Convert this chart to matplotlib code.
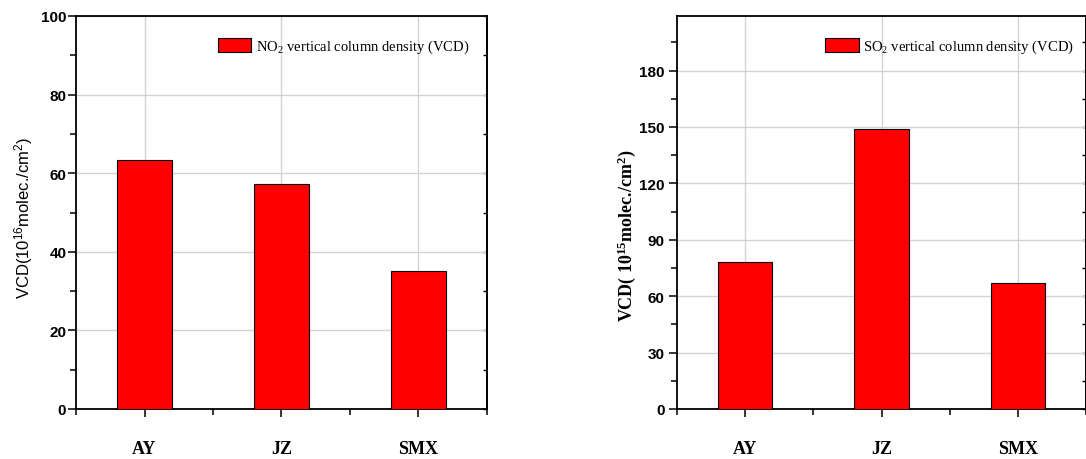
import numpy as np
import matplotlib
matplotlib.use("Agg")
import matplotlib.pyplot as plt
from matplotlib.ticker import MultipleLocator

# dane
stacje = ["AY", "JZ", "SMX"]
no2_vcd = [63.4, 57.2, 35.2]
so2_vcd = [78.0, 149.1, 67.1]

W, H = 1086, 460
fig = plt.figure(figsize=(W / 100, H / 100), dpi=100)

ax1 = fig.add_axes([76 / W, 50 / H, 411 / W, 393 / H])
ax2 = fig.add_axes([677 / W, 50 / H, 409 / W, 393 / H])

pozycje = np.arange(1, len(stacje) + 1)


def rysuj(ax, wartosci, ymax, krok, maly, opis_legendy):
    ax.bar(pozycje, wartosci, width=0.4, color="#ff0000",
           edgecolor="black", linewidth=0.8, label=opis_legendy, zorder=3)
    ax.set_xlim(0.5, 3.5)
    ax.set_ylim(0, ymax)
    ax.yaxis.set_major_locator(MultipleLocator(krok))
    ax.yaxis.set_minor_locator(MultipleLocator(maly))
    ax.set_xticks(pozycje)
    ax.set_xticks([0.5, 1.5, 2.5, 3.5], minor=True)
    ax.set_xticklabels(stacje, fontfamily="Liberation Serif",
                       fontweight="bold", fontsize=13)
    ax.grid(True, which="major", color="#d4d4d4", linewidth=1.0, zorder=0)
    for s in ax.spines.values():
        s.set_linewidth(1.3)
    ax.tick_params(axis="x", which="major", length=6, width=1.1,
                   direction="out", pad=16)
    ax.tick_params(axis="x", which="minor", length=4, width=1.1,
                   direction="out")
    ax.tick_params(axis="y", which="major", length=6, width=1.1,
                   direction="out", pad=1, labelsize=11)
    ax.tick_params(axis="y", which="minor", length=4, width=1.1,
                   direction="out")
    for t in ax.get_yticklabels():
        t.set_fontfamily("Liberation Sans")
        t.set_fontweight("bold")
    # znaczniki po prawej stronie, do wewnątrz
    ay = ax.secondary_yaxis("right")
    ay.yaxis.set_major_locator(MultipleLocator(krok))
    ay.yaxis.set_minor_locator(MultipleLocator(maly))
    ay.tick_params(which="both", direction="in", length=3, width=1.0,
                   labelright=False)
    ay.spines["right"].set_linewidth(1.3)


rysuj(ax1, no2_vcd, 100, 20, 10,
      r"NO$\mathregular{_2}$ vertical column density (VCD)")
rysuj(ax2, so2_vcd, 209, 30, 15,
      r"SO$\mathregular{_2}$ vertical column density (VCD)")

ax2.set_yticks([0, 30, 60, 90, 120, 150, 180])
for t in ax2.get_yticklabels():
    t.set_fontfamily("Liberation Sans")
    t.set_fontweight("bold")
ax2.tick_params(axis="y", which="major", pad=3)

for ax, x0 in [(ax1, 0.345), (ax2, 0.363)]:
    ax.legend(loc="upper left", bbox_to_anchor=(x0, 0.945), frameon=False,
              borderpad=0, borderaxespad=0, handlelength=2.3,
              handleheight=1.05, handletextpad=0.3,
              prop={"family": "Liberation Serif", "size": 10.5})

fig.text(24 / W, 1 - 218 / H, r"VCD(10$\mathregular{^{16}}$molec./cm$\mathregular{^2}$)",
         rotation=90, ha="center", va="center",
         fontfamily="Liberation Sans", fontsize=12)
fig.text(627 / W, 1 - 236 / H, r"VCD( 10$\mathregular{^{15}}$molec./cm$\mathregular{^2}$)",
         rotation=90, ha="center", va="center",
         fontfamily="Liberation Serif", fontweight="bold", fontsize=13)

fig.savefig("out.png", dpi=100)
